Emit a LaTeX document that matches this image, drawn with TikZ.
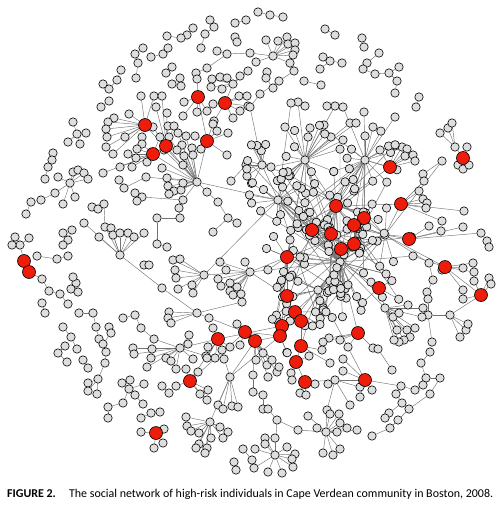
\documentclass[tikz,border=0pt]{standalone}
\usepackage{fontspec}
\setmainfont{Carlito}
\usepackage{graphicx}
\usetikzlibrary{calc}
\pgfdeclarelayer{bg}
\pgfdeclarelayer{top}
\pgfsetlayers{bg,main,top}
\definecolor{nodegray}{RGB}{222,222,222}
\definecolor{nodered}{RGB}{238,28,10}
\definecolor{edgegray}{RGB}{115,115,115}
\tikzset{
  gn/.style={circle,draw=black,line width=0.6pt,fill=nodegray,inner sep=0pt,minimum size=8.4pt},
  rn/.style={circle,draw=black,line width=0.6pt,fill=nodered,inner sep=0pt,minimum size=13pt},
  ed/.style={draw=edgegray,line width=0.45pt}
}
\def\edgelist{}
\newcommand\xe[2]{\xdef\edgelist{\unexpanded\expandafter{\edgelist}\noexpand\doedge{#1}{#2}}}
\newcommand\myleaves[3]{%
  \foreach \xx/\yy [count=\k] in {#3}{%
    \node[gn] (#2-\k) at (\xx,\yy) {};
    \xe{#1}{#2-\k}}}
\newcommand\mychain[2]{%
  \foreach \xx/\yy [count=\k] in {#2}{%
    \node[gn] (#1-\k) at (\xx,\yy) {};
    \ifnum\k>1 \pgfmathtruncatemacro\j{\k-1}\xe{#1-\j}{#1-\k}\fi}}
\newcommand\mycloud[5]{%
  \foreach \k in {1,...,#3}{%
    \pgfmathsetmacro\ang{360*rnd}%
    \pgfmathsetmacro\rad{#4+(#5-#4)*sqrt(rnd)}%
    \node[gn] (#2-\k) at ($(#1)+(\ang:\rad)$) {};
    \xe{#1}{#2-\k}%
    \pgfmathtruncatemacro\flag{rnd<0.4}%
    \ifnum\flag=1 \pgfmathrandomitem\hh{core}\xe{\hh}{#2-\k}\fi}}
\begin{document}
\begin{tikzpicture}[x=1pt,y=-1pt]
\pgfmathsetseed{11}
\useasboundingbox (0,0) rectangle (503,507);
% red nodes
\begin{pgfonlayer}{top}
\foreach \nm/\xx/\yy in {r1/198/97,r2/225/103,r3/145/125,r4/166/146,r5/153/154,r6/207/141,
  r7/390/167,r8/463/158,r9/401/204,r10/336/206,r11/364/218,r12/354/225,r13/312/230,r14/331/234,
  r15/354/244,r16/341/249,r17/409/239,r18/24/261,r19/29/272,r20/287/257,r21/445/267,r22/379/288,
  r23/481/295,r24/287/296,r25/295/312,r26/301/321,r27/282/326,r28/280/336,r29/358/333,r30/245/332,
  r31/218/339,r32/255/341,r33/301/346,r34/296/362,r35/305/382,r36/365/380,r37/190/381,r38/156/433}
  {\node[rn] (\nm) at (\xx,\yy) {};}
\end{pgfonlayer}
% core hubs
\node[gn] (k1) at (340,262) {};
\node[gn] (k2) at (305,160) {};
\node[gn] (k3) at (365,160) {};
\node[gn] (k4) at (278,200) {};
\node[gn] (k5) at (385,235) {};
\node[gn] (k6) at (318,290) {};
\node[gn] (k7) at (262,165) {};
\node[gn] (hZ) at (273,56) {};
\pgfmathdeclarerandomlist{core}{{k1}{k2}{k3}{k4}{k5}{k6}{r10}{r13}{r20}{r14}{r11}{r15}{k1}{r10}}
% ---------- top-left ----------
\mychain{ca}{210/20,214/27,205/34,201/48}
\mychain{cb}{235/23,246/20}
\mychain{cc}{193/28,187/35,181/38,167/36}
\mychain{cd}{235/37,237/42}
\mychain{ce}{143/48,135/54,138/63,136/78}
\mychain{cf}{151/57,163/54,168/48}
\mychain{cg}{121/70,117/80,109/89,103/84}
\mychain{cj}{109/101,101/107}
\mychain{ck}{172/67,166/73}
\node[gn] (hA) at (180,78) {}; \myleaves{hA}{hAl}{172/84,181/86}
\node[gn] (hB) at (227,54) {}; \myleaves{hB}{hBl}{217/51,207/68,250/53}
\node[gn] (hC) at (233,84) {}; \myleaves{hC}{hCl}{212/79,220/77,227/78,211/87,222/89,240/76,248/71}
\mychain{cn}{196/73,197/79}
\myleaves{r1}{r1l}{184/102,197/112,207/111,183/116}
\myleaves{r2}{r2l}{213/104,239/96,247/96,248/106,240/111,233/118,214/121}
\myleaves{r3}{r3l}{129/114,114/118,108/122,106/129,107/137,106/147,125/137,141/96,154/96,142/137,113/154}
\myleaves{r4}{r4l}{153/127,168/126,162/96,167/113,156/107,174/126}
\myleaves{r5}{r5l}{142/144,137/149,136/158,128/154,147/162,132/167,120/167,103/173,160/137}
\myleaves{r6}{r6l}{217/131,228/133,201/149,195/136,227/155,213/124}
\node[gn] (hD) at (197,182) {};
\myleaves{hD}{hDl}{169/137,178/133,186/136,182/145,192/148,184/156,193/155,177/150,164/150,183/165,162/168,167/178,168/186,174/191,169/194,181/190,183/183,146/177,207/192,183/200}
\mychain{co}{119/180,124/188}
\node[gn] (hE) at (142,197) {}; \myleaves{hE}{hEl}{135/193,137/201}
\mychain{cp}{179/208,180/218,157/218}
\mychain{cq}{157/244,167/247}
\mychain{cr}{218/202,228/218,237/223}
\myleaves{cr-2}{crl}{213/232}
\mychain{cs}{246/165,231/181}
\myleaves{cs-1}{csl}{247/176}
\xe{hBl-2}{cn-1}\xe{cn-2}{r1}\xe{hC}{r2}\xe{hD}{r4}\xe{hD}{r5}\xe{hD}{r6}\xe{hD}{r3}
\xe{co-2}{hDl-18}\xe{hE}{hDl-20}\xe{hDl-20}{cp-1}\xe{cp-3}{cq-1}\xe{hDl-19}{cr-1}
\xe{hD}{k4}\xe{cs-1}{k7}\xe{csl-1}{k7}\xe{hBl-3}{hZ}\xe{r1}{r6}
% ---------- left ----------
\node[gn] (hF) at (77,134) {}; \myleaves{hF}{hFl}{73/122,86/133,80/144,68/142}
\mychain{ct}{53/153,52/160,48/167,45/179}
\node[gn] (hG) at (70,183) {}; \myleaves{hG}{hGl}{73/172,78/170,84/173,88/179,75/197,58/177,63/204}
\mychain{cu}{55/193,41/200,31/202,26/214}
\xe{hG}{cu-1}
\mychain{cx}{92/207,98/209,104/204}
\node[gn] (hH) at (120,255) {}; \myleaves{hH}{hHl}{105/227,111/228,113/235,120/233,128/233,134/237,144/233,99/237,84/223}
\xe{cx-3}{hHl-1}
\node[gn] (hI) at (68,240) {}; \myleaves{hI}{hIl}{63/233,72/230,63/245}
\node[gn] (hJ) at (20,245) {}; \myleaves{hJ}{hJl}{12/245,15/237,29/238}
\xe{hJ}{r18}
\mychain{cy}{37/256,57/259,68/256}
% ---------- bottom-left ----------
\mychain{cz}{42/279,49/291,60/294,68/304}
\xe{r19}{cz-1}
\node[gn] (hK) at (76,283) {}; \myleaves{hK}{hKl}{73/277,71/289,78/292}
\mychain{da}{42/303,45/313}
\mychain{db}{79/313,93/313,96/327,99/339,106/352,105/363,98/379,88/383}
\myleaves{db-7}{dc}{88/391,97/394}
\mychain{dd}{109/327,111/333,103/344}
\mychain{de}{63/327,71/337,77/349}
\mychain{df}{65/346,58/353,67/362}
\mychain{dg}{83/360,88/368}
\mychain{dh}{123/318,135/315,141/328,154/339}
\node[gn] (hL) at (180,348) {};
\myleaves{hL}{hLl}{189/335,188/344,151/358,147/367,166/358,171/361,176/369,193/359,206/356,152/349,133/348,134/354}
\xe{hL}{r31}\xe{dh-4}{hL}
\node[gn] (hM) at (129,389) {}; \myleaves{hM}{hMl}{122/383,130/380,135/395,144/384,143/404,123/403}
\mychain{di}{108/407,108/418}
\xe{hMl-6}{di-1}
\mychain{dj}{162/386,169/393}
\mychain{dk}{141/418,151/413,160/412}
\myleaves{r38}{r38l}{141/432,164/429,163/443,154/448}
\node[gn] (hN) at (210,422) {};
\myleaves{hN}{hNl}{186/417,187/426,191/431,199/433,220/427,228/432,223/438,211/438,207/448,199/444,196/448,205/453}
\myleaves{r37}{r37l}{186/369,198/372,200/394,208/390,207/400,176/386}
\node[gn] (hO) at (230,377) {}; \myleaves{hO}{hOl}{218/405,223/409,232/406,238/407}
\xe{hO}{hN}\xe{hO}{r32}\xe{hO}{r31}\xe{hO}{r28}\xe{r37}{r30}\xe{r37}{r31}
\mychain{dl}{243/449,252/460}
\mychain{dm}{234/462,236/470}
\myleaves{r31}{r31l}{213/328,208/347,222/350,230/347,215/358,207/358,224/359}
\node[gn] (dn) at (162,288) {};
\node[gn] (hP) at (197,313) {}; \myleaves{hP}{hPl}{169/312,168/318,171/323,209/318,242/302}
\xe{hH}{dn}\xe{dn}{hP}\xe{hPl-4}{r30}
\node[gn] (hQ) at (204,275) {}; \myleaves{hQ}{hQl}{173/260,180/259,175/270,176/278,178/289,192/285,193/293}
\mychain{do}{144/265,149/265}
\node[gn] (hR) at (250,272) {};
\myleaves{hR}{hRl}{220/262,218/279,221/286,230/283,230/291,233/295,241/294,237/287,226/270,245/262}
\xe{hQ}{hR}\xe{hR}{k1}\xe{hR}{r20}\xe{hR}{r24}\xe{hQ}{k4}
% ---------- bottom-right ----------
\myleaves{r21}{r21l}{463/268,473/263,474/272,463/290,413/256,442/270}
\myleaves{r23}{r23l}{489/278,491/284,474/281,463/299}
\mychain{dq}{429/263,433/280,427/292,428/299,428/315,432/342,430/352,421/363,426/378,423/385,415/390,401/386,396/394}
\node[gn] (hS) at (450,315) {}; \myleaves{hS}{hSl}{466/330,468/324,460/337}
\xe{hS}{dq-5}\xe{hS}{r23}
\node[gn] (hT) at (385,308) {};
\myleaves{hT}{hTl}{393/317,399/313,397/330,407/330,415/328,410/337,404/340,399/342,394/340,408/305,423/308,422/317}
\xe{hT}{k1}\xe{hT}{r22}
\mychain{dr}{373/348,378/349,392/370}
\xe{r29}{dr-1}
\mychain{dt}{440/378,430/394,409/409,398/420,390/428,372/436}
\xe{dq-9}{dt-1}
\mychain{du}{402/403,389/413,385/418}
\xe{dq-13}{du-1}\xe{r36}{dq-12}
\node[gn] (hV) at (335,380) {}; \myleaves{hV}{hVl}{328/384,350/405,360/387}
\xe{hV}{r36}\xe{hV}{r35}
\node[gn] (hW) at (326,432) {};
\myleaves{hW}{hWl}{317/428,308/416,337/432,347/428,323/453,333/455,340/449,327/410,330/414,339/414,340/423,357/430}
\xe{hV}{hWl-8}
\mychain{dv}{253/375,253/392,263/395,263/409,268/409,277/420,298/430}
\xe{dv-7}{hW}\xe{r32}{dv-1}
\node[gn] (hX) at (275,455) {};
\myleaves{hX}{hXl}{265/438,265/444,275/438,255/449,287/447,295/454,293/467,282/473,268/472,254/468,292/459}
\xe{hX}{dv-6}
\myleaves{r35}{r35l}{300/393,306/395,315/384}
\myleaves{r34}{r34l}{291/373,292/380,309/356}
\myleaves{r36}{r36l}{360/397,372/390,343/371,343/359}
\myleaves{r29}{r29l}{348/347,340/340,329/338,323/342}
\myleaves{r33}{r33l}{322/350,330/363}
\myleaves{r32}{r32l}{263/353,256/360,267/365,268/377,277/372,279/367,272/360}
\myleaves{r30}{r30l}{237/324,240/345}
% ---------- top-right ----------
\node[gn] (hY) at (455,147) {}; \myleaves{hY}{hYl}{440/133,448/128,452/123}
\xe{hY}{r8}
\myleaves{r8}{r8l}{467/147,458/165,463/169,469/165}
\mychain{dw}{442/161,423/174,424/181}
\xe{dw-3}{r9}
\myleaves{r7}{r7l}{402/147,407/149,405/156,413/155,415/161,395/146,380/150}
\myleaves{r9}{r9l}{419/191,423/199,427/203,426/208,464/211,442/221}
\myleaves{r17}{r17l}{429/226,441/231,463/227,481/233}
\mychain{dx}{487/241,489/247}
\xe{r17l-4}{dx-1}
\mychain{dy}{258/12,270/15,283/17}
\mychain{dz}{325/29,335/35}
\mychain{ea}{362/38,364/47}
\mychain{eb}{379/53,367/63,363/69,375/74,389/73,399/67}
\mychain{ec}{397/81,395/93}
\xe{eb-5}{ec-1}
\mychain{ed}{419/97,416/107}
\mychain{ee}{323/57,330/61,342/63}
\myleaves{ee-2}{eel}{320/69}
\mychain{ef}{304/81,321/85}
\myleaves{hZ}{hZl}{266/40,278/41,287/37,288/44,295/43,295/50,293/55,256/62,290/63}
\mychain{eg}{294/71,279/81,260/94,250/107}
\mychain{eh}{267/72,266/78,273/88}
\node[gn] (hAA) at (298,102) {}; \myleaves{hAA}{hAAl}{291/103,305/106}
\node[gn] (hAB) at (335,106) {}; \myleaves{hAB}{hABl}{327/106,343/107}
\myleaves{k2}{k2t}{285/127,310/128,324/125,308/137,331/137,343/140,350/123,356/123}
\myleaves{k3}{k3t}{364/112,373/127,365/136,395/117}
\xe{hAA}{k2}\xe{hAB}{k2}\xe{hABl-2}{k3}\xe{eg-4}{k7}\xe{hAAl-1}{k4}
% ---------- core ----------
\mycloud{k1}{k1c}{26}{8}{60}
\mycloud{r10}{r10c}{12}{8}{40}
\mycloud{k2}{k2c}{16}{8}{38}
\mycloud{k3}{k3c}{14}{8}{38}
\mycloud{k4}{k4c}{14}{8}{32}
\mycloud{r13}{r13c}{6}{8}{25}
\mycloud{k5}{k5c}{12}{8}{35}
\mycloud{r20}{r20c}{8}{8}{28}
\mycloud{k6}{k6c}{14}{8}{32}
\mycloud{k7}{k7c}{8}{8}{25}
\mycloud{r25}{r25c}{8}{8}{28}
\mycloud{r22}{r22c}{5}{8}{25}
\mycloud{r11}{r11c}{3}{8}{20}
\mycloud{r12}{r12c}{3}{8}{20}
\mycloud{r14}{r14c}{3}{8}{20}
\mycloud{r15}{r15c}{3}{8}{20}
\mycloud{r16}{r16c}{3}{8}{20}
\mycloud{r24}{r24c}{3}{8}{20}
\mycloud{r27}{r27c}{3}{8}{20}
\mycloud{r28}{r28c}{3}{8}{20}
% long edges
\xe{r7}{k3}\xe{r7}{r10}\xe{dw-1}{k5}\xe{r9}{k5}\xe{r9}{r10}\xe{r17}{k5}\xe{r21}{k5}
\xe{r21l-5}{k1}\xe{dq-1}{k5}\xe{r22}{k1}\xe{r29}{k1}\xe{r36}{k6}\xe{r24}{k6}\xe{r24}{r20}
\xe{r25}{k6}\xe{r26}{k1}\xe{r27}{r20}\xe{r28}{k1}\xe{r33}{k6}\xe{r34}{r33}\xe{r35}{r34}
\xe{r32}{r28}\xe{r30}{r28}\xe{r31}{r27}\xe{r10}{r13}\xe{r14}{r16}\xe{r15}{k1}\xe{r11}{k3}
\xe{r12}{r10}\xe{r13}{k4}\xe{k2}{k4}\xe{k2}{r10}\xe{k3}{r10}\xe{r23}{r21}\xe{k7}{k4}
\xe{r26}{r25}\xe{r26}{r33}\xe{r28}{r27}\xe{r16}{k1}\xe{r15}{r12}\xe{r14}{r13}\xe{k5}{k1}
\xe{k6}{k1}\xe{r20}{k1}\xe{r11}{k5}
% draw all connectors behind the nodes
\begin{pgfonlayer}{bg}
\def\doedge#1#2{\draw[ed] (#1) -- (#2);}
\edgelist
\end{pgfonlayer}
% caption
\node[anchor=west,inner sep=0pt] (cap) at (7,494.5)
  {\resizebox{486pt}{!}{\textbf{FIGURE 2.}\hspace{1.1em}The social network of high-risk individuals in Cape Verdean community in Boston, 2008.}};
\end{tikzpicture}
\end{document}
